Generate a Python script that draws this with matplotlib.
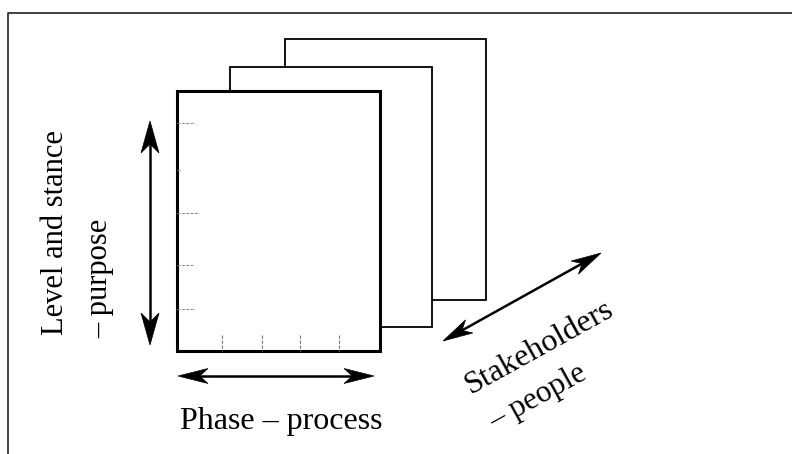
import matplotlib
matplotlib.use("Agg")
import matplotlib.pyplot as plt
import numpy as np
from matplotlib.patches import Polygon, Rectangle

# ---- diagram content (pixel coordinates of the reference, y downwards) ----
# stacked sheets: (left, top, right, bottom), back to front
sheet_left = [285, 230, 177]
sheet_top = [39, 67, 91]
sheet_right = [486, 432, 380]
sheet_bottom = [300, 327, 351]
sheet_lw = [1.3, 1.3, 2.2]

# faint tick marks on the front sheet
left_tick_y = [123, 170, 213, 265, 309]
left_tick_len = [18, 3, 22, 16, 18]
bottom_tick_x = [222, 262, 300, 339]

# double-headed arrows: (x0, y0, x1, y1)
arrows = [
    (150, 121, 150, 345),
    (178, 376, 374, 376),
    (443, 341, 601, 253),
]
arrow_head = [(32, 18), (30, 15), (30, 15)]

labels = ["Level and stance", "– purpose", "Phase – process", "Stakeholders", "– people"]
label_x = [56, 100, 281, 540, 538]
label_y = [233, 278, 421, 347, 397]
label_rot = [90, 90, 0, 29, 29]
label_size = [22, 22, 23, 23, 22.5]

fig = plt.figure(figsize=(7.92, 4.54), dpi=100)
ax = fig.add_axes([0, 0, 1, 1])
ax.set_xlim(0, 792)
ax.set_ylim(454, 0)
ax.axis("off")

# outer frame (only top and left visible)
ax.plot([8, 8, 792], [454, 13, 13], color="#222222", lw=1.2, solid_capstyle="butt")

# sheets
for l, t, r, b, lw in zip(sheet_left, sheet_top, sheet_right, sheet_bottom, sheet_lw):
    ax.add_patch(Rectangle((l, t), r - l, b - t, facecolor="white", edgecolor="black", lw=lw))

# ticks
for y, ln in zip(left_tick_y, left_tick_len):
    ax.plot([sheet_left[-1], sheet_left[-1] + ln], [y, y], color="#888888", lw=0.7, ls=(0, (3, 1.5)))
for x in bottom_tick_x:
    ax.plot([x, x], [sheet_bottom[-1] - 16, sheet_bottom[-1]], color="#777777", lw=0.8, ls=(0, (3, 1.5)))


def double_arrow(x0, y0, x1, y1, L, W):
    p0 = np.array([x0, y0], float)
    p1 = np.array([x1, y1], float)
    u = (p1 - p0) / np.linalg.norm(p1 - p0)
    n = np.array([-u[1], u[0]])
    a = p0 + 0.7 * L * u
    b = p1 - 0.7 * L * u
    ax.plot([a[0], b[0]], [a[1], b[1]], color="black", lw=1.8)
    for tip, d in ((p1, u), (p0, -u)):
        pts = [tip, tip - L * d + W / 2 * n, tip - 0.72 * L * d, tip - L * d - W / 2 * n]
        ax.add_patch(Polygon(pts, closed=True, facecolor="black", edgecolor="black", lw=0.5))


for (x0, y0, x1, y1), (L, W) in zip(arrows, arrow_head):
    double_arrow(x0, y0, x1, y1, L, W)

for s, x, y, r, fs in zip(labels, label_x, label_y, label_rot, label_size):
    ax.text(x, y, s, rotation=r, ha="center", va="center", fontsize=fs,
            family=["Liberation Serif", "DejaVu Serif"], rotation_mode="anchor")

fig.savefig("out.png", dpi=100, facecolor="white")
